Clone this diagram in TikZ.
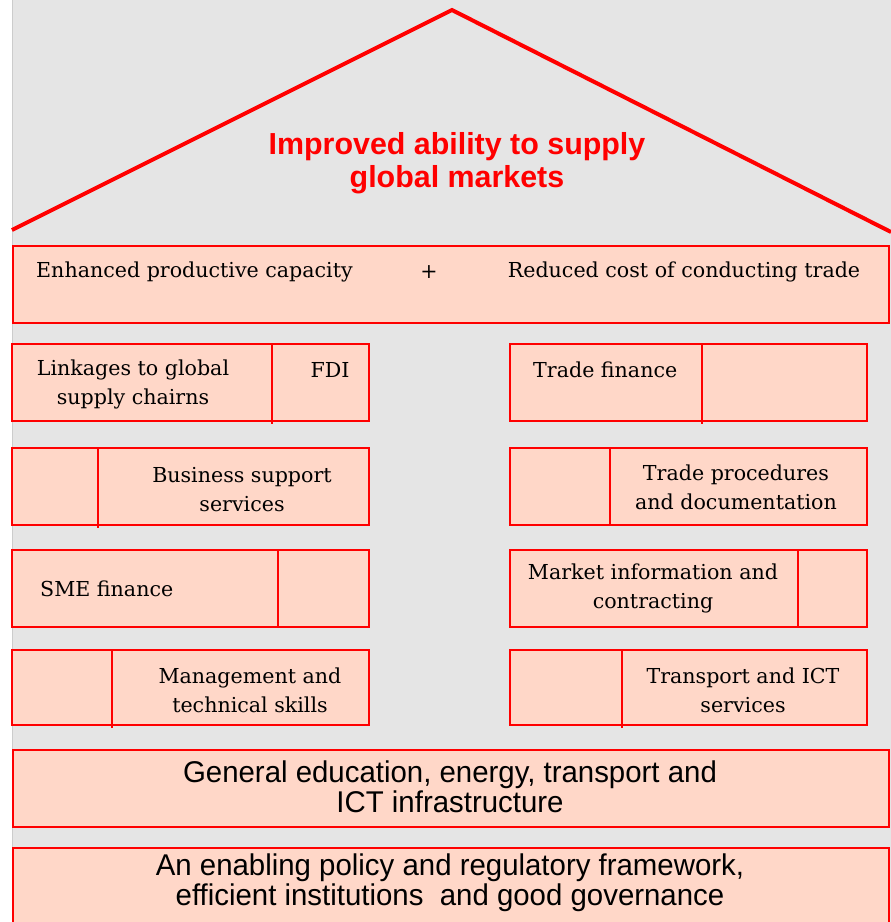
\documentclass[tikz,border=0pt]{standalone}
\usepackage{fontspec}
\setmainfont{DejaVu Serif}
\newfontfamily\titlefont{Liberation Sans}
\newfontfamily\narrowfont[FakeStretch=0.98]{Liberation Sans}
\definecolor{bggray}{RGB}{229,229,229}
\definecolor{peach}{RGB}{255,215,200}
\definecolor{roofred}{RGB}{255,0,0}
\tikzset{
  box/.style={draw=roofred, fill=peach, line width=2pt, inner sep=0pt, outer sep=0pt, anchor=north west},
  divider/.style={draw=roofred, line width=2pt},
  serif/.style={font=\fontsize{20.6}{29}\selectfont, text=black, align=center, inner sep=0pt},
  sans/.style={font=\narrowfont\fontsize{30}{30}\selectfont, text=black, align=center, inner sep=0pt},
}
\begin{document}
\begin{tikzpicture}[x=1pt,y=-1pt]
\useasboundingbox (0,0) rectangle (891,922);
\fill[white] (0,0) rectangle (891,922);
\fill[bggray] (12,0) rectangle (891,922);
\draw[gray!40, line width=1pt] (12,0) -- (12,922);
% roof
\coordinate (roofL) at (12,230);
\coordinate (roofT) at (452,10);
\coordinate (roofR) at (891,232);
\draw[roofred, line width=4pt] (roofL) -- (roofT) -- (roofR);
\node[font=\titlefont\bfseries\fontsize{30.4}{33}\selectfont, text=roofred, align=center, inner sep=0pt] (title) at (457,163) {Improved ability to supply\\global markets};
% top box
\node[box, minimum width=876, minimum height=77] (top) at (13,246) {};
\node[serif, anchor=west] (enh) at (36,272) {Enhanced productive capacity};
\node[serif] (plus) at (429,272) {+};
\node[serif] (red) at (684,272) {Reduced cost of conducting trade};
% left column
\node[box, minimum width=357, minimum height=77] (L1) at (12,344) {};
\node[box, minimum width=357, minimum height=77] (L2) at (12,448) {};
\node[box, minimum width=357, minimum height=77] (L3) at (12,550) {};
\node[box, minimum width=357, minimum height=75] (L4) at (12,650) {};
% right column
\node[box, minimum width=357, minimum height=77] (R1) at (510,344) {};
\node[box, minimum width=357, minimum height=77] (R2) at (510,448) {};
\node[box, minimum width=357, minimum height=77] (R3) at (510,550) {};
\node[box, minimum width=357, minimum height=75] (R4) at (510,650) {};
% dividers
\coordinate (dL1a) at (272,344); \coordinate (dL1b) at (272,424);
\coordinate (dL2a) at (98,448);  \coordinate (dL2b) at (98,528);
\coordinate (dL3a) at (278,550); \coordinate (dL3b) at (278,627);
\coordinate (dL4a) at (112,650); \coordinate (dL4b) at (112,728);
\coordinate (dR1a) at (702,344); \coordinate (dR1b) at (702,424);
\coordinate (dR2a) at (610,448); \coordinate (dR2b) at (610,525);
\coordinate (dR3a) at (798,550); \coordinate (dR3b) at (798,627);
\coordinate (dR4a) at (622,650); \coordinate (dR4b) at (622,728);
\foreach \d in {L1,L2,L3,L4,R1,R2,R3,R4} \draw[divider] (d\d a) -- (d\d b);
% texts
\node[serif] (t1) at (133,384) {Linkages to global\\supply chairns};
\node[serif] (t2) at (330,370) {FDI};
\node[serif, anchor=west] (t3) at (533,370) {Trade finance};
\node[serif] (t4) at (242,490) {Business support\\services};
\node[serif] (t5) at (736,487) {Trade procedures\\and documentation};
\node[serif, anchor=west] (t6) at (40,589) {SME finance};
\node[serif] (t7) at (653,588) {Market information and\\contracting};
\node[serif] (t8) at (250,690) {Management and\\technical skills};
\node[serif] (t9) at (743,690) {Transport and ICT\\services};
% bottom boxes
\node[box, minimum width=876, minimum height=77] (B1) at (13,750) {};
\node[sans] (b1) at (450,787) {General education, energy, transport and\\ICT infrastructure};
\node[box, minimum width=876, minimum height=80] (B2) at (13,848) {};
\node[sans] (b2) at (450,883) {An enabling policy and regulatory framework,\\efficient institutions\ \ and good governance};
\end{tikzpicture}
\end{document}
